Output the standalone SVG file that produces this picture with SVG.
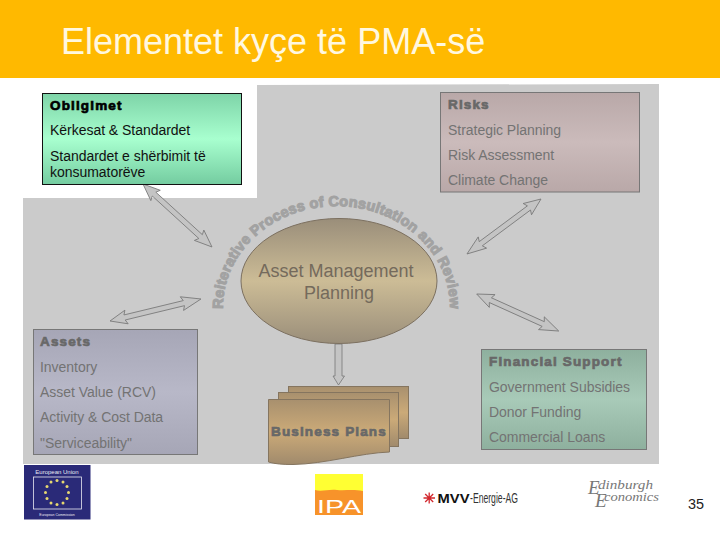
<svg xmlns="http://www.w3.org/2000/svg" width="720" height="540" viewBox="0 0 720 540">
  <defs>
    <linearGradient id="gG" x1="0" y1="0" x2="0" y2="1"><stop offset="0" stop-color="#7ed4a8"/><stop offset=".5" stop-color="#a8ffcf"/><stop offset="1" stop-color="#74cca0"/></linearGradient>
    <linearGradient id="gR" x1="0" y1="0" x2="0" y2="1"><stop offset="0" stop-color="#b9a8a8"/><stop offset=".5" stop-color="#cbbbbb"/><stop offset="1" stop-color="#b9a8a8"/></linearGradient>
    <linearGradient id="gA" x1="0" y1="0" x2="0" y2="1"><stop offset="0" stop-color="#a6a6b6"/><stop offset=".5" stop-color="#b8b8c8"/><stop offset="1" stop-color="#a6a6b6"/></linearGradient>
    <linearGradient id="gF" x1="0" y1="0" x2="0" y2="1"><stop offset="0" stop-color="#8eb09e"/><stop offset=".5" stop-color="#a8cab8"/><stop offset="1" stop-color="#8eb09e"/></linearGradient>
    <linearGradient id="gE" x1="0" y1="0" x2="0" y2="1"><stop offset="0" stop-color="#9a8e7a"/><stop offset=".5" stop-color="#ccbc96"/><stop offset="1" stop-color="#9a8e7a"/></linearGradient>
    <linearGradient id="gP" x1="0" y1="0" x2="0" y2="1"><stop offset="0" stop-color="#a8906e"/><stop offset=".5" stop-color="#cbaa78"/><stop offset="1" stop-color="#a08a6c"/></linearGradient>
    <path id="arc" d="M223,307 A113.500,101 0 0 1 450,307"/>
  </defs>
  <style>
    text { font-family: "Liberation Sans", Arial, sans-serif; }
    .b { font-size: 14px; letter-spacing: -.03px; }
    .h { font-size: 13.500px; font-weight: bold; letter-spacing: 1.150px; stroke-width: .7px; }
    .m { fill: #737373; }
    .hm { fill: #686868; stroke: #686868; }
    .k { fill: #111; }
    .hk { fill: #000; stroke: #000; }
    .box { stroke: #777; stroke-width: 1; }
    .arr { fill: #c4c4c4; stroke: #777; stroke-width: .8; }
    .sheet { stroke: #85755f; stroke-width: 1; }
  </style>

  <rect width="720" height="540" fill="#fff"/>
  <rect id="banner" width="720" height="78" fill="#ffb900"/>
  <text id="title" x="61" y="54" font-size="36" fill="#fff8e0">Elementet kyçe të PMA-së</text>
  <polygon id="panel" points="23,198 257,198 257,85 659,84 659,464 23,464" fill="#cbcbcb"/>

  <g id="connectors">
    <polygon class="arr" transform="translate(143,184) rotate(42.4)" points="0,0 17,-7 15,-2.600 78,-2.600 76,-7 93.400,0 76,7 78,2.600 15,2.600 17,7"/>
    <polygon class="arr" transform="translate(541,199) rotate(143.4)" points="0,0 17,-7 15,-2.600 75,-2.600 73,-7 92.200,0 73,7 75,2.600 15,2.600 17,7"/>
    <polygon class="arr" transform="translate(476.7,294) rotate(24.3)" points="0,0 17,-7 15,-2.600 73,-2.600 71,-7 90,0 71,7 73,2.600 15,2.600 17,7"/>
    <polygon class="arr" transform="translate(110,321) rotate(-13.6)" points="0,0 17,-7 15,-2.600 76,-2.600 74,-7 93.600,0 74,7 76,2.600 15,2.600 17,7"/>
    <polygon class="arr" points="335,344 342,344 342,376 344.500,376 338.500,385 333,376 335,376"/>
  </g>

  <g id="obligimet">
    <rect x="42.500" y="93.500" width="199" height="91" fill="url(#gG)" stroke="#111"/>
    <text class="h hk" x="50" y="110">Obligimet</text>
    <text class="b k" x="50" y="135">Kërkesat &amp; Standardet</text>
    <text class="b k" x="50" y="161">Standardet e shërbimit të</text>
    <text class="b k" x="50" y="177">konsumatorëve</text>
  </g>
  <g id="risks">
    <rect class="box" x="440.500" y="92.500" width="199" height="99.500" fill="url(#gR)"/>
    <text class="h hm" x="448" y="109">Risks</text>
    <text class="b m" x="448" y="135">Strategic Planning</text>
    <text class="b m" x="448" y="160">Risk Assessment</text>
    <text class="b m" x="448" y="185">Climate Change</text>
  </g>
  <g id="assets">
    <rect class="box" x="33.500" y="329.500" width="164" height="125" fill="url(#gA)"/>
    <text class="h hm" x="40" y="346">Assets</text>
    <text class="b m" x="40" y="372">Inventory</text>
    <text class="b m" x="40" y="397">Asset Value (RCV)</text>
    <text class="b m" x="40" y="422">Activity &amp; Cost Data</text>
    <text class="b m" x="40" y="448">"Serviceability"</text>
  </g>
  <g id="financial">
    <rect class="box" x="481.500" y="349.500" width="165" height="100" fill="url(#gF)"/>
    <text class="h hm" x="489" y="366">Financial Support</text>
    <text class="b m" x="489" y="392">Government Subsidies</text>
    <text class="b m" x="489" y="417">Donor Funding</text>
    <text class="b m" x="489" y="442">Commercial Loans</text>
  </g>
  <g id="planning">
    <ellipse cx="339" cy="281" rx="98" ry="62.500" fill="url(#gE)" stroke="#7c7060"/>
    <text x="336" y="277" text-anchor="middle" font-size="18" fill="#746a5c">Asset Management</text>
    <text x="339" y="299" text-anchor="middle" font-size="18" fill="#746a5c">Planning</text>
  </g>
  <text id="process" font-size="14.500" font-weight="bold" fill="#a2a2a2" stroke="#a2a2a2" stroke-width="1.100" letter-spacing=".25"><textPath href="#arc" startOffset="50%" text-anchor="middle">Reiterative Process of Consultation and Review</textPath></text>
  <g id="plans">
    <rect class="sheet" x="288.500" y="386.500" width="120" height="52" fill="url(#gP)"/>
    <rect class="sheet" x="278.500" y="392.500" width="120" height="54" fill="url(#gP)"/>
    <path class="sheet" d="M268.500,399.500 H389.500 V452 C360,453 325,464 293,464.500 C283,464.500 275,464 268.500,462 Z" fill="url(#gP)"/>
    <text class="h hm" x="271" y="436">Business Plans</text>
  </g>

  <g id="logo-eu">
    <rect x="24" y="465" width="66.500" height="54.500" fill="#2a2a78"/>
    <rect x="33.500" y="477" width="48" height="32" fill="#2a2a78" stroke="#e8e8f0" stroke-width=".8"/>
    <text x="57" y="474" text-anchor="middle" font-size="6" fill="#e8e8f0">European Union</text>
    <text x="57" y="515.500" text-anchor="middle" font-size="3.500" fill="#e8e8f0">European Commission</text>
    <g fill="#e6d870">
      <circle cx="57" cy="480.500" r="1.500"/><circle cx="63" cy="482" r="1.500"/><circle cx="67" cy="486.500" r="1.500"/><circle cx="68.500" cy="492.500" r="1.500"/><circle cx="67" cy="498.500" r="1.500"/><circle cx="63" cy="503" r="1.500"/><circle cx="57" cy="504.500" r="1.500"/><circle cx="51" cy="503" r="1.500"/><circle cx="47" cy="498.500" r="1.500"/><circle cx="45.500" cy="492.500" r="1.500"/><circle cx="47" cy="486.500" r="1.500"/><circle cx="51" cy="482" r="1.500"/>
    </g>
  </g>
  <g id="logo-ipa">
    <rect x="315" y="474" width="48" height="41" fill="#f7932a"/>
    <path d="M315,474 H363 V491 C352,489 345,491 337,490 C328,489 322,492 315,490 Z" fill="#ffff33"/>
    <text x="317" y="513" font-size="19" fill="#fff" textLength="44" lengthAdjust="spacingAndGlyphs">IPA</text>
  </g>
  <g id="logo-mvv">
    <path d="M423.500,498 H435 M429.200,492.500 V503.500 M425.200,494 L433.200,502 M433.200,494 L425.200,502" stroke="#d2282e" stroke-width="1.300"/>
    <text x="437.500" y="503" font-size="12" font-weight="bold" fill="#111" textLength="32" lengthAdjust="spacingAndGlyphs">MVV</text>
    <text x="470" y="503" font-size="14" fill="#333" textLength="48" lengthAdjust="spacingAndGlyphs">-Energie-AG</text>
  </g>
  <g id="logo-ee" font-style="italic" fill="#777">
    <text x="588" y="494" font-size="19" style="font-family:'Liberation Serif',serif">E</text>
    <text x="598" y="489" font-size="13" textLength="55" lengthAdjust="spacingAndGlyphs" style="font-family:'Liberation Serif',serif">dinburgh</text>
    <text x="595" y="507" font-size="19" style="font-family:'Liberation Serif',serif">E</text>
    <text x="604" y="501" font-size="13" textLength="55" lengthAdjust="spacingAndGlyphs" style="font-family:'Liberation Serif',serif">conomics</text>
  </g>
  <text id="page" x="688" y="509" font-size="14.400" fill="#222">35</text>
</svg>
